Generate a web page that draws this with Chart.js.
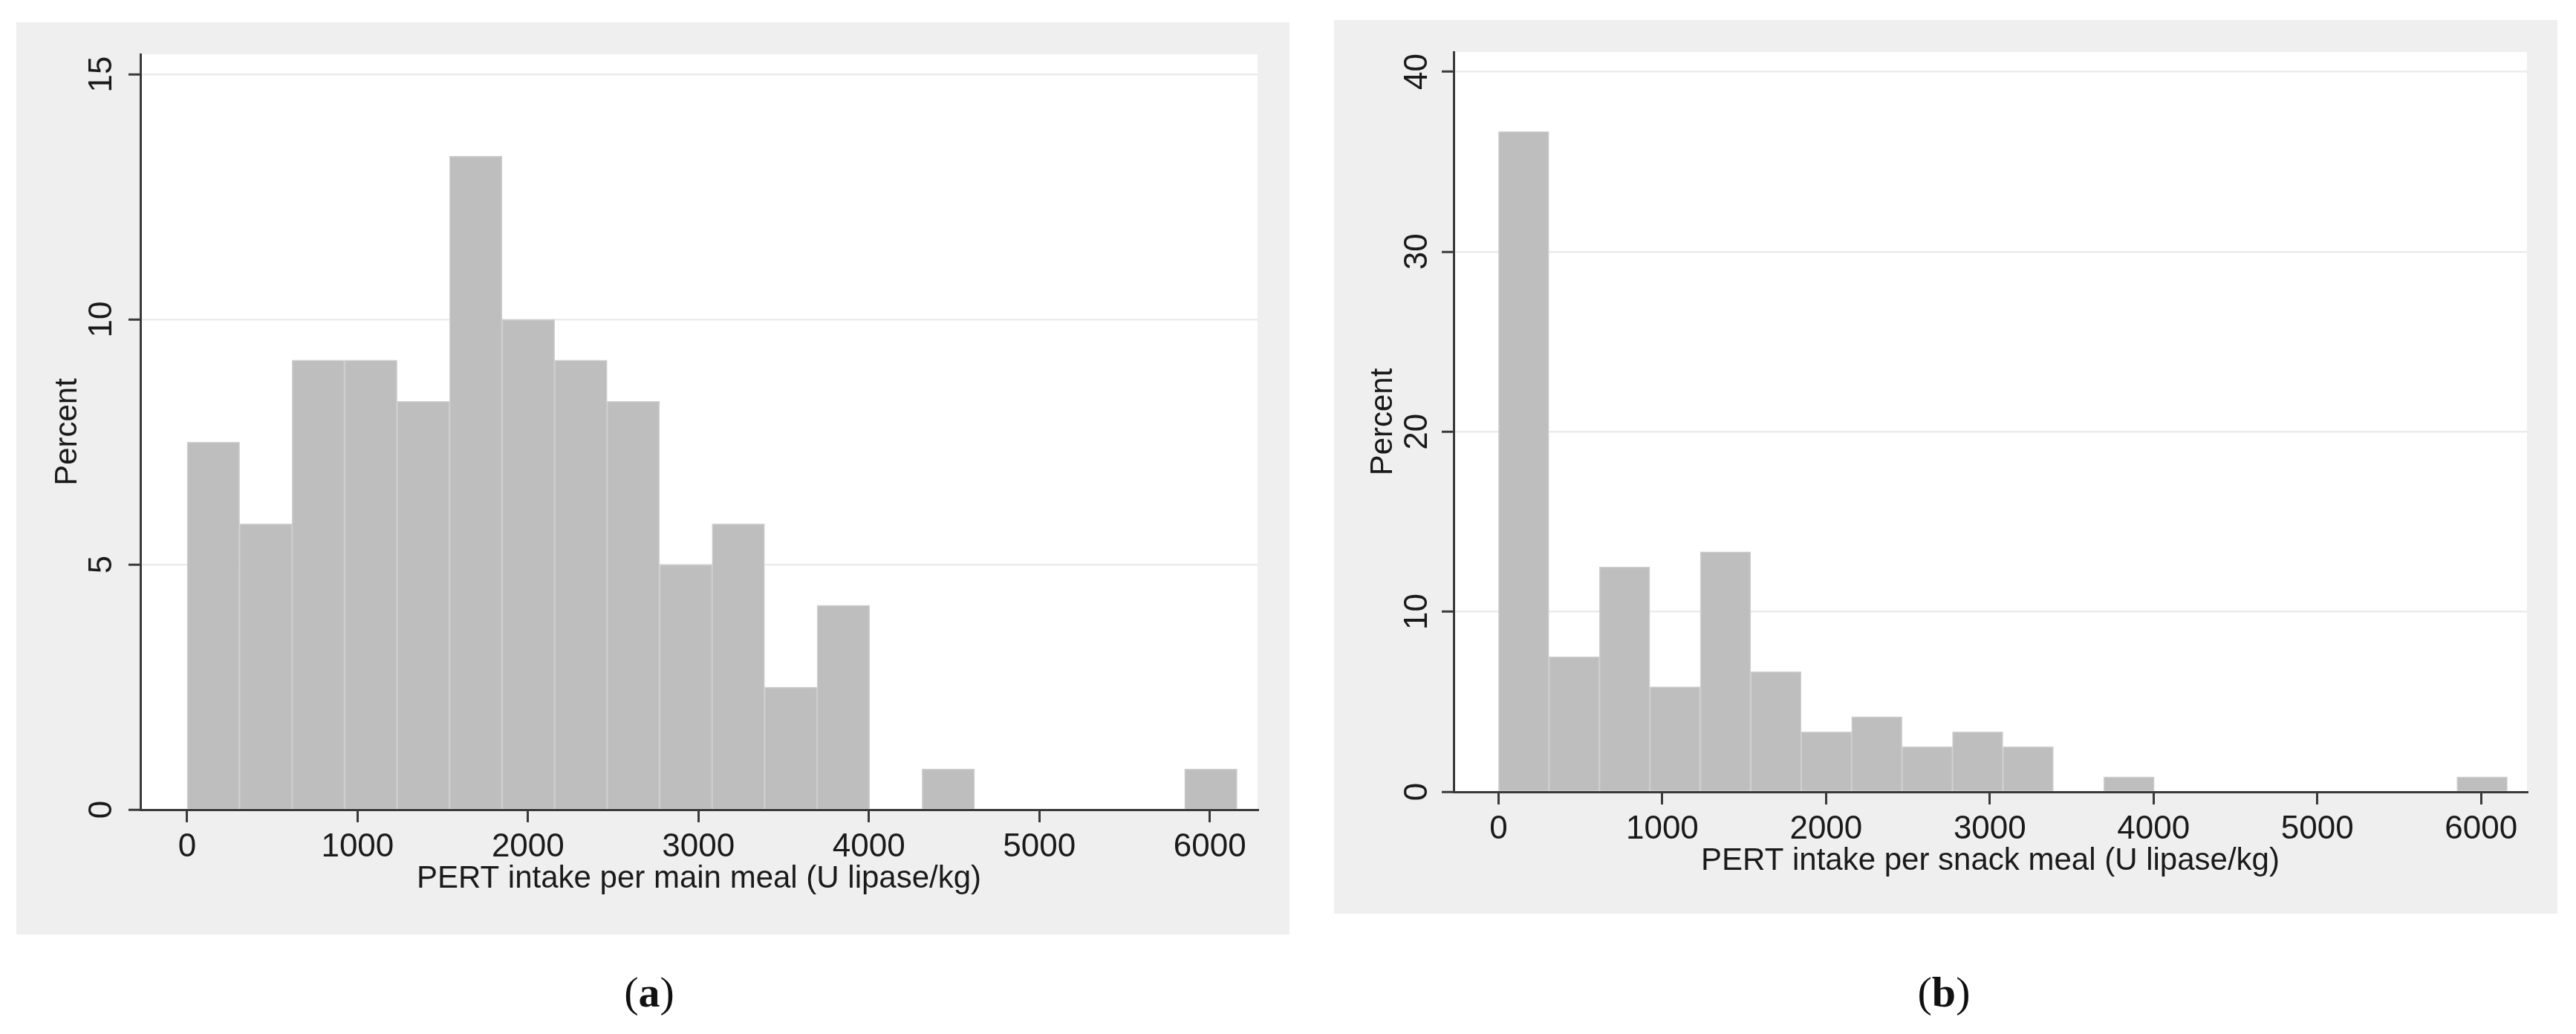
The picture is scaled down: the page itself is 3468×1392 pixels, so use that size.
<!DOCTYPE html>
<html>
<head>
<meta charset="utf-8">
<script src="https://cdn.jsdelivr.net/npm/chart.js@4.4.1/dist/chart.umd.min.js"></script>
<style>
  body { margin: 0; background: #fff; width: 3468px; height: 1392px; position: relative; overflow: hidden; }
  canvas { position: absolute; background: #efefef; }
  #mainChart { left: 22px; top: 30px; }
  #snackChart { left: 1796px; top: 27px; }
  .cap { position: absolute; top: 1300px; width: 200px; margin-left: -100px; text-align: center;
         font-family: 'Liberation Serif', 'DejaVu Serif', serif; font-size: 58px; color: #111; line-height: 72px; }
  .cap b { font-weight: bold; }
</style>
</head>
<body>
<canvas id="mainChart" width="1714" height="1228"></canvas>
<canvas id="snackChart" width="1647" height="1203"></canvas>
<div class="cap" style="left:874px">(<b>a</b>)</div>
<div class="cap" style="left:2617px">(<b>b</b>)</div>

<script>
// ===== DATA =====
const binWidth = 308;
const binStart = [0, 308, 616, 924, 1232, 1540, 1848, 2156, 2464, 2772, 3080, 3388, 3696, 4004, 4312, 4620, 4928, 5236, 5544, 5852];
const mainMealPct = [7.5, 5.83, 9.17, 9.17, 8.33, 13.33, 10, 9.17, 8.33, 5, 5.83, 2.5, 4.17, 0, 0.83, 0, 0, 0, 0, 0.83];
const snackMealPct = [36.67, 7.5, 12.5, 5.83, 13.33, 6.67, 3.33, 4.17, 2.5, 3.33, 2.5, 0, 0.83, 0, 0, 0, 0, 0, 0, 0.83];
const xTicks = [0, 1000, 2000, 3000, 4000, 5000, 6000];
const mainYTicks = [0, 5, 10, 15];
const snackYTicks = [0, 10, 20, 30, 40];

const AXIS = '#3a3a3a';
const TEXT = '#1a1a1a';
const FONT = "'Liberation Sans', Arial, sans-serif";

// white plot region on the grey graph region
const plotBg = {
  id: 'plotBg',
  beforeDraw(chart) {
    const { ctx, chartArea: a } = chart;
    ctx.save();
    ctx.fillStyle = '#ffffff';
    ctx.fillRect(a.left, a.top, a.right - a.left, a.bottom - a.top);
    ctx.restore();
  }
};

function makeHist(id, pct, yTicks, cfg) {
  const points = [];
  pct.forEach((v, i) => {
    if (v > 0) points.push({ x: binStart[i] + binWidth / 2, y: v });
  });
  return new Chart(document.getElementById(id), {
    type: 'bar',
    data: {
      datasets: [{
        data: points,
        backgroundColor: '#bebebe',
        borderColor: '#cecece',
        borderWidth: 1.5,
        borderSkipped: 'bottom',
        barPercentage: 1,
        categoryPercentage: 1
      }]
    },
    options: {
      responsive: false,
      animation: false,
      layout: { padding: { left: 0, right: cfg.padRight, top: cfg.padTop, bottom: 0 } },
      plugins: { legend: { display: false }, tooltip: { enabled: false } },
      scales: {
        x: {
          type: 'linear',
          offset: false,
          min: -274,
          max: 6280,
          afterBuildTicks: s => { s.ticks = xTicks.map(v => ({ value: v })); },
          afterFit: s => { s.height = cfg.xHeight; },
          grid: { offset: false, drawOnChartArea: false, color: AXIS, tickColor: AXIS, lineWidth: 3, tickLength: 17 },
          border: { display: true, color: AXIS, width: 3 },
          ticks: { color: TEXT, font: { family: FONT, size: 44 }, padding: 7, maxRotation: 0, callback: v => String(v) },
          title: {
            display: true,
            text: cfg.xTitle,
            color: TEXT,
            font: { family: FONT, size: 42 },
            padding: { top: 0, bottom: cfg.xTitlePad }
          }
        },
        y: {
          min: 0,
          max: cfg.yMax,
          afterBuildTicks: s => { s.ticks = yTicks.map(v => ({ value: v })); },
          afterFit: s => { s.width = cfg.yWidth; },
          grid: { color: '#ebebeb', lineWidth: 2.5, tickColor: AXIS, tickWidth: 3, tickLength: 16 },
          border: { display: true, color: AXIS, width: 3 },
          ticks: {
            color: TEXT,
            font: { family: FONT, size: 44 },
            minRotation: 90,
            maxRotation: 90,
            crossAlign: 'center',
            padding: cfg.yTickPad,
            callback: v => String(v)
          },
          title: {
            display: true,
            text: 'Percent',
            color: TEXT,
            font: { family: FONT, size: 42 },
            padding: { top: cfg.yTitlePad, bottom: 0 }
          }
        }
      }
    },
    plugins: [plotBg]
  });
}

// ===== (a) MAIN MEAL =====
makeHist('mainChart', mainMealPct, mainYTicks, {
  xTitle: 'PERT intake per main meal (U lipase/kg)',
  yMax: 15.41,
  padRight: 43, padTop: 43,
  xHeight: 168, yWidth: 167,
  xTitlePad: 49, yTitlePad: 44, yTickPad: 11
});

// ===== (b) SNACK MEAL =====
makeHist('snackChart', snackMealPct, snackYTicks, {
  xTitle: 'PERT intake per snack meal (U lipase/kg)',
  yMax: 41.09,
  padRight: 41, padTop: 43,
  xHeight: 164, yWidth: 161,
  xTitlePad: 45, yTitlePad: 41, yTickPad: 8
});
</script>
</body>
</html>
